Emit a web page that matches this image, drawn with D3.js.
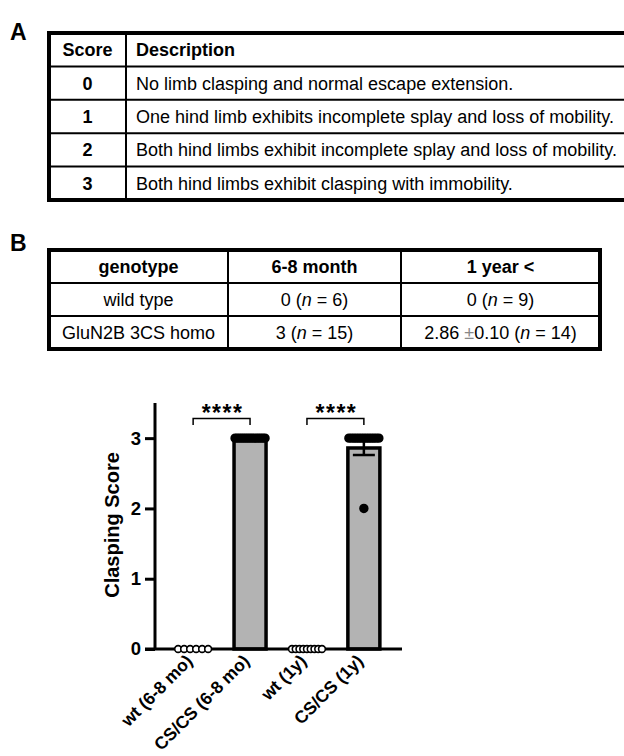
<!DOCTYPE html>
<html>
<head>
<meta charset="utf-8">
<script src="https://cdn.jsdelivr.net/npm/d3@7"></script>
<style>
  body { margin: 0; background: #fff; }
  svg text { font-family: "Liberation Sans", Arial, Helvetica, sans-serif; }
</style>
</head>
<body>
<svg id="fig" width="624" height="756"></svg>
<script>
// ---- panel A table
const scoreHeader = ["Score", "Description"];
const scores = ["0", "1", "2", "3"];
const descriptions = [
    "No limb clasping and normal escape extension.",
    "One hind limb exhibits incomplete splay and loss of mobility.",
    "Both hind limbs exhibit incomplete splay and loss of mobility.",
    "Both hind limbs exhibit clasping with immobility."
];

// ---- panel B table
const tableBHeader = ["genotype", "6-8 month", "1 year <"];
const genotypes = ["wild type", "GluN2B 3CS homo"];
const score68 = ["0", "3"];
const n68 = [6, 15];
const score1y = ["0", "2.86"];
const sem1yText = [null, "0.10"];
const n1y = [9, 14];

// ---- chart
const groups = ["wt (6-8 mo)", "CS/CS (6-8 mo)", "wt (1y)", "CS/CS (1y)"];
const wt68 = [0, 0, 0, 0, 0, 0];
const cs68 = [3, 3, 3, 3, 3, 3, 3, 3, 3, 3, 3, 3, 3, 3, 3];
const wt1y = [0, 0, 0, 0, 0, 0, 0, 0, 0];
const cs1y = [3, 3, 3, 3, 3, 3, 3, 3, 3, 3, 3, 3, 3, 2];
const means = [0, 3, 0, 2.86];
const sems = [0, 0, 0, 0.10];
const yTicks = [0, 1, 2, 3];
const comparisons = [[0, 1, "****"], [2, 3, "****"]];

const svg = d3.select("#fig");

function drawTableA() {
    const left = 49, right = 640, top = 33, rowH = 33.4, colX = 126;
    const g = svg.append("g");
    g.append("text").attr("x", 10).attr("y", 40).attr("font-size", 23).attr("font-weight", "bold").text("A");

    const nRows = scores.length + 1;
    const ys = d3.range(nRows + 1).map(i => top + i * rowH);
    g.selectAll("line.h").data(ys.slice(1, -1)).enter().append("line")
        .attr("x1", left).attr("x2", right).attr("y1", d => d).attr("y2", d => d)
        .attr("stroke", "#000").attr("stroke-width", 2);
    g.append("line").attr("x1", colX).attr("x2", colX).attr("y1", top).attr("y2", ys[nRows])
        .attr("stroke", "#000").attr("stroke-width", 2);
    g.append("rect").attr("x", left).attr("y", top).attr("width", right - left).attr("height", nRows * rowH)
        .attr("fill", "none").attr("stroke", "#000").attr("stroke-width", 4);

    g.append("text").attr("x", (left + colX) / 2).attr("y", top + rowH / 2 + 6.5)
        .attr("text-anchor", "middle").attr("font-size", 18).attr("font-weight", "bold").text(scoreHeader[0]);
    g.append("text").attr("x", colX + 10).attr("y", top + rowH / 2 + 6.5)
        .attr("font-size", 18).attr("font-weight", "bold").text(scoreHeader[1]);

    g.selectAll("text.score").data(scores).enter().append("text")
        .attr("x", (left + colX) / 2).attr("y", (d, i) => top + (i + 1.5) * rowH + 6.5)
        .attr("text-anchor", "middle").attr("font-size", 18).attr("font-weight", "bold").text(d => d);
    g.selectAll("text.desc").data(descriptions).enter().append("text")
        .attr("x", colX + 10).attr("y", (d, i) => top + (i + 1.5) * rowH + 6.5)
        .attr("font-size", 18).text(d => d);
}

function drawTableB() {
    const top = 250, rowH = 33;
    const cols = [49, 228, 401, 600];
    const g = svg.append("g");
    g.append("text").attr("x", 10).attr("y", 251).attr("font-size", 23).attr("font-weight", "bold").text("B");

    const nRows = genotypes.length + 1;
    const centers = d3.range(3).map(i => (cols[i] + cols[i + 1]) / 2);
    const rowY = i => top + (i + 0.5) * rowH + 6.5;

    g.selectAll("line.h").data(d3.range(1, nRows)).enter().append("line")
        .attr("x1", cols[0]).attr("x2", cols[3]).attr("y1", d => top + d * rowH).attr("y2", d => top + d * rowH)
        .attr("stroke", "#000").attr("stroke-width", 2);
    g.selectAll("line.v").data(cols.slice(1, 3)).enter().append("line")
        .attr("x1", d => d).attr("x2", d => d).attr("y1", top).attr("y2", top + nRows * rowH)
        .attr("stroke", "#000").attr("stroke-width", 2);
    g.append("rect").attr("x", cols[0]).attr("y", top).attr("width", cols[3] - cols[0]).attr("height", nRows * rowH)
        .attr("fill", "none").attr("stroke", "#000").attr("stroke-width", 4);

    g.selectAll("text.hd").data(tableBHeader).enter().append("text")
        .attr("x", (d, i) => centers[i]).attr("y", rowY(0))
        .attr("text-anchor", "middle").attr("font-size", 18).attr("font-weight", "bold").text(d => d);

    genotypes.forEach((gt, r) => {
        g.append("text").attr("x", centers[0]).attr("y", rowY(r + 1))
            .attr("text-anchor", "middle").attr("font-size", 18).text(gt);

        const t1 = g.append("text").attr("x", centers[1]).attr("y", rowY(r + 1))
            .attr("text-anchor", "middle").attr("font-size", 18);
        t1.append("tspan").text(score68[r] + " (");
        t1.append("tspan").attr("font-style", "italic").text("n");
        t1.append("tspan").text(" = " + n68[r] + ")");

        const t2 = g.append("text").attr("x", centers[2]).attr("y", rowY(r + 1))
            .attr("text-anchor", "middle").attr("font-size", 18);
        t2.append("tspan").text(score1y[r] + " ");
        if (sem1yText[r]) {
            t2.append("tspan").attr("fill", "#888").text("\u00b1");
            t2.append("tspan").text(sem1yText[r] + " ");
        }
        t2.append("tspan").text("(");
        t2.append("tspan").attr("font-style", "italic").text("n");
        t2.append("tspan").text(" = " + n1y[r] + ")");
    });
}

function drawChart() {
    const x = d3.scalePoint().domain(groups).range([155, 402]).padding(0.67);
    const y = d3.scaleLinear().domain([0, 3.5]).range([649, 403]);
    const barW = 32;
    const g = svg.append("g");

    // bars (wild type groups have mean 0, so no bar)
    g.selectAll("rect.bar").data(groups.map((gr, i) => ({ gr, m: means[i] })).filter(d => d.m > 0))
        .enter().append("rect").attr("class", "bar")
        .attr("x", d => x(d.gr) - barW / 2).attr("width", barW)
        .attr("y", d => y(d.m)).attr("height", d => y(0) - y(d.m))
        .attr("fill", "#b3b3b3").attr("stroke", "#000").attr("stroke-width", 3.5);

    // error bars
    groups.forEach((gr, i) => {
        if (sems[i] <= 0) return;
        const cx = x(gr);
        const lo = y(means[i] - sems[i]), hi = y(means[i] + sems[i]);
        g.append("line").attr("x1", cx).attr("x2", cx).attr("y1", lo).attr("y2", hi).attr("stroke", "#000").attr("stroke-width", 2.5);
        [lo, hi].forEach(yy => g.append("line").attr("x1", cx - 11).attr("x2", cx + 11).attr("y1", yy).attr("y2", yy)
            .attr("stroke", "#000").attr("stroke-width", 2.5));
    });

    // axes
    const yAxis = g.append("g").attr("transform", "translate(155,0)")
        .call(d3.axisLeft(y).tickValues(yTicks).tickSize(10).tickPadding(4).tickFormat(d3.format("d")));
    yAxis.select(".domain").attr("d", `M0,${y(3.5)}V${y(0)}`).attr("stroke-width", 3);
    yAxis.selectAll(".tick line").attr("stroke-width", 3);
    yAxis.selectAll(".tick text").attr("font-size", 18.5).attr("font-weight", "bold").attr("fill", "#000")
        .attr("font-family", "Liberation Sans, Arial, sans-serif");

    const xAxis = g.append("g").attr("transform", `translate(0,${y(0)})`)
        .call(d3.axisBottom(x).tickSize(0).tickSizeOuter(0));
    xAxis.select(".domain").attr("d", "M145,0H402").attr("stroke-width", 3);
    xAxis.selectAll(".tick text")
        .attr("font-size", 17.5).attr("font-weight", "bold").attr("fill", "#000")
        .attr("font-family", "Liberation Sans, Arial, sans-serif")
        .attr("text-anchor", "end").attr("dy", null)
        .attr("transform", "translate(-2,11) rotate(-45)");

    // points
    const series = [wt68, cs68, wt1y, cs1y];
    const hollow = [true, false, true, false];
    series.forEach((vals, gi) => {
        const cx = x(groups[gi]);
        const counts = d3.rollup(vals, v => v.length, d => d);
        const seen = new Map();
        const pts = vals.map(v => {
            const n = counts.get(v);
            const k = seen.get(v) || 0;
            seen.set(v, k + 1);
            const sp = n > 1 ? Math.min(6.4, 30 / (n - 1)) : 0;
            return { v, dx: (k - (n - 1) / 2) * sp };
        });
        g.selectAll(null).data(pts).enter().append("circle")
            .attr("cx", d => cx + d.dx).attr("cy", d => y(d.v)).attr("r", hollow[gi] ? 3.4 : 3.9)
            .attr("fill", hollow[gi] ? "#fff" : "#000").attr("stroke", "#000").attr("stroke-width", 1.6);
    });

    // significance brackets
    comparisons.forEach(([a, b, label]) => {
        const x1 = x(groups[a]), x2 = x(groups[b]);
        g.append("path").attr("d", `M${x1},425V418.5H${x2}V425`).attr("fill", "none")
            .attr("stroke", "#000").attr("stroke-width", 1.5);
        g.append("text").attr("x", (x1 + x2) / 2 + 1).attr("y", 421).attr("text-anchor", "middle")
            .attr("font-size", 23).attr("font-weight", "bold").attr("letter-spacing", 1.5).text(label);
    });

    // y label
    g.append("text").attr("transform", "translate(119,525) rotate(-90)").attr("text-anchor", "middle")
        .attr("font-size", 20).attr("font-weight", "bold").text("Clasping Score");
}

drawTableA();
drawTableB();
drawChart();
</script>
</body>
</html>
